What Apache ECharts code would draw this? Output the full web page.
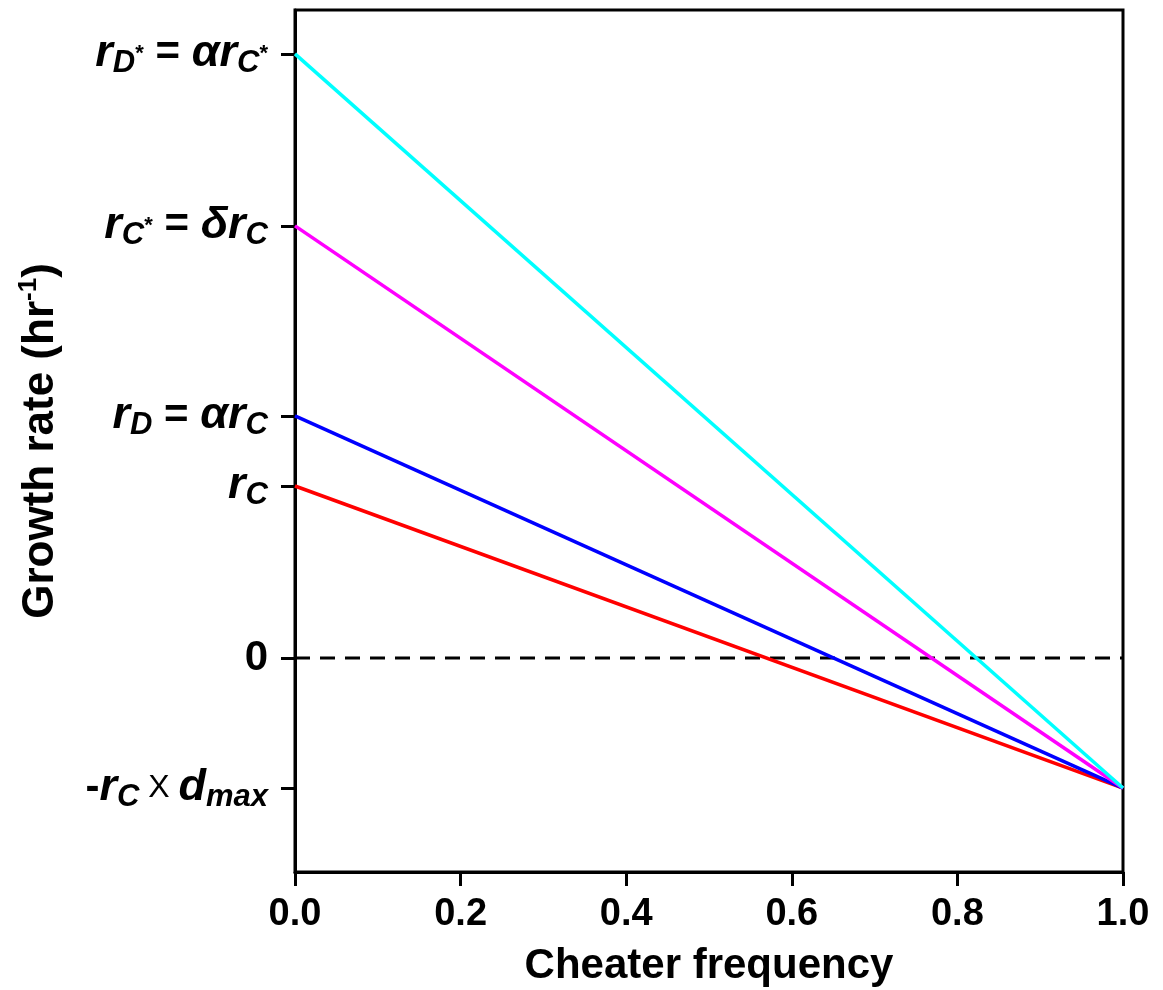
<!DOCTYPE html>
<html>
<head>
<meta charset="utf-8">
<script src="https://cdn.jsdelivr.net/npm/echarts@6/dist/echarts.min.js"></script>
<style>html,body{margin:0;padding:0;background:#fff}#chart{width:1163px;height:990px}</style>
</head>
<body>
<div id="chart"></div>
<script>
// Cheater frequency (x) and growth rate (y, in units of r_C)
const freq = [0, 1];
const growthC = [1, -0.756];
const growthD = [1.407, -0.756];
const growthCstar = [2.512, -0.756];
const growthDstar = [3.512, -0.756];
const zeroLine = [0, 0];

// Named levels on the growth-rate axis
const levelValues = [-0.756, 0, 1, 1.407, 2.512, 3.512];
const levelLabels = [
  '{b|-}{r|r}{s|C}{x| X }{r|d}{s|max}',
  '{b|0}',
  '{r|r}{s|C}',
  '{r|r}{s|D}{b| = }{r|αr}{s|C}',
  '{r|r}{s|C}{st|*}{b| = }{r|δr}{s|C}',
  '{r|r}{s|D}{st|*}{b| = }{r|αr}{s|C}{st|*}'
];

const FONT = '"Liberation Sans", Arial, Helvetica, sans-serif';

function pairs(ys) { return freq.map((f, i) => [f, ys[i]]); }

const chart = echarts.init(document.getElementById('chart'));
chart.setOption({
  animation: false,
  grid: {
    left: 295, right: 40, top: 10, bottom: 118,
    outerBoundsMode: 'none', containLabel: false,
    show: true, borderColor: '#000', borderWidth: 3, backgroundColor: 'transparent'
  },
  xAxis: {
    type: 'value', min: 0, max: 1, interval: 0.2,
    name: 'Cheater frequency', nameLocation: 'middle', nameGap: 73,
    nameTextStyle: { fontFamily: FONT, fontWeight: 'bold', fontSize: 42, color: '#000' },
    axisLine: { show: true, onZero: false, lineStyle: { color: '#000', width: 3 } },
    axisTick: { show: true, inside: false, length: 14, lineStyle: { color: '#000', width: 3 } },
    axisLabel: { margin: 24, fontFamily: FONT, fontWeight: 'bold', fontSize: 38, color: '#000', formatter: v => v.toFixed(1) },
    splitLine: { show: false }
  },
  yAxis: {
    type: 'value', min: -1.244, max: 3.767,
    name: '{n|Growth rate (hr}{sup|-1}{n|)}', nameLocation: 'middle', nameGap: 229,
    nameTextStyle: {
      rich: {
        n: { fontFamily: FONT, fontWeight: 'bold', fontSize: 44, color: '#000', lineHeight: 50, verticalAlign: 'middle' },
        sup: { fontFamily: FONT, fontWeight: 'bold', fontSize: 26, color: '#000', lineHeight: 30, verticalAlign: 'top' }
      }
    },
    axisLine: { show: true, lineStyle: { color: '#000', width: 3 } },
    axisTick: { show: true, inside: false, length: 14, customValues: levelValues, lineStyle: { color: '#000', width: 3 } },
    axisLabel: {
      margin: 27,
      customValues: levelValues,
      formatter: v => {
        const i = levelValues.findIndex(t => Math.abs(t - v) < 1e-6);
        return i >= 0 ? levelLabels[i] : '';
      },
      rich: {
        r: { fontFamily: FONT, fontWeight: 'bold', fontStyle: 'italic', fontSize: 45, color: '#000', lineHeight: 50, verticalAlign: 'middle' },
        b: { fontFamily: FONT, fontWeight: 'bold', fontSize: 42, color: '#000', lineHeight: 50, verticalAlign: 'middle' },
        x: { fontFamily: FONT, fontWeight: 'normal', fontSize: 32, color: '#000', lineHeight: 50, verticalAlign: 'middle' },
        s: { fontFamily: FONT, fontWeight: 'bold', fontStyle: 'italic', fontSize: 31, color: '#000', lineHeight: 24, verticalAlign: 'bottom' },
        st: { fontFamily: FONT, fontWeight: 'bold', fontSize: 22, color: '#000', lineHeight: 22, verticalAlign: 'middle' }
      }
    },
    splitLine: { show: false }
  },
  series: [
    { name: 'zero', type: 'line', data: pairs(zeroLine), symbol: 'none', lineStyle: { color: '#000', width: 3, type: [15, 10] }, z: 1 },
    { name: 'rC', type: 'line', data: pairs(growthC), symbol: 'none', lineStyle: { color: '#ff0000', width: 3.5 } },
    { name: 'rD', type: 'line', data: pairs(growthD), symbol: 'none', lineStyle: { color: '#0000ff', width: 3.5 } },
    { name: 'rC*', type: 'line', data: pairs(growthCstar), symbol: 'none', lineStyle: { color: '#ff00ff', width: 3.5 } },
    { name: 'rD*', type: 'line', data: pairs(growthDstar), symbol: 'none', lineStyle: { color: '#00ffff', width: 3.5 } }
  ]
});
</script>
</body>
</html>
